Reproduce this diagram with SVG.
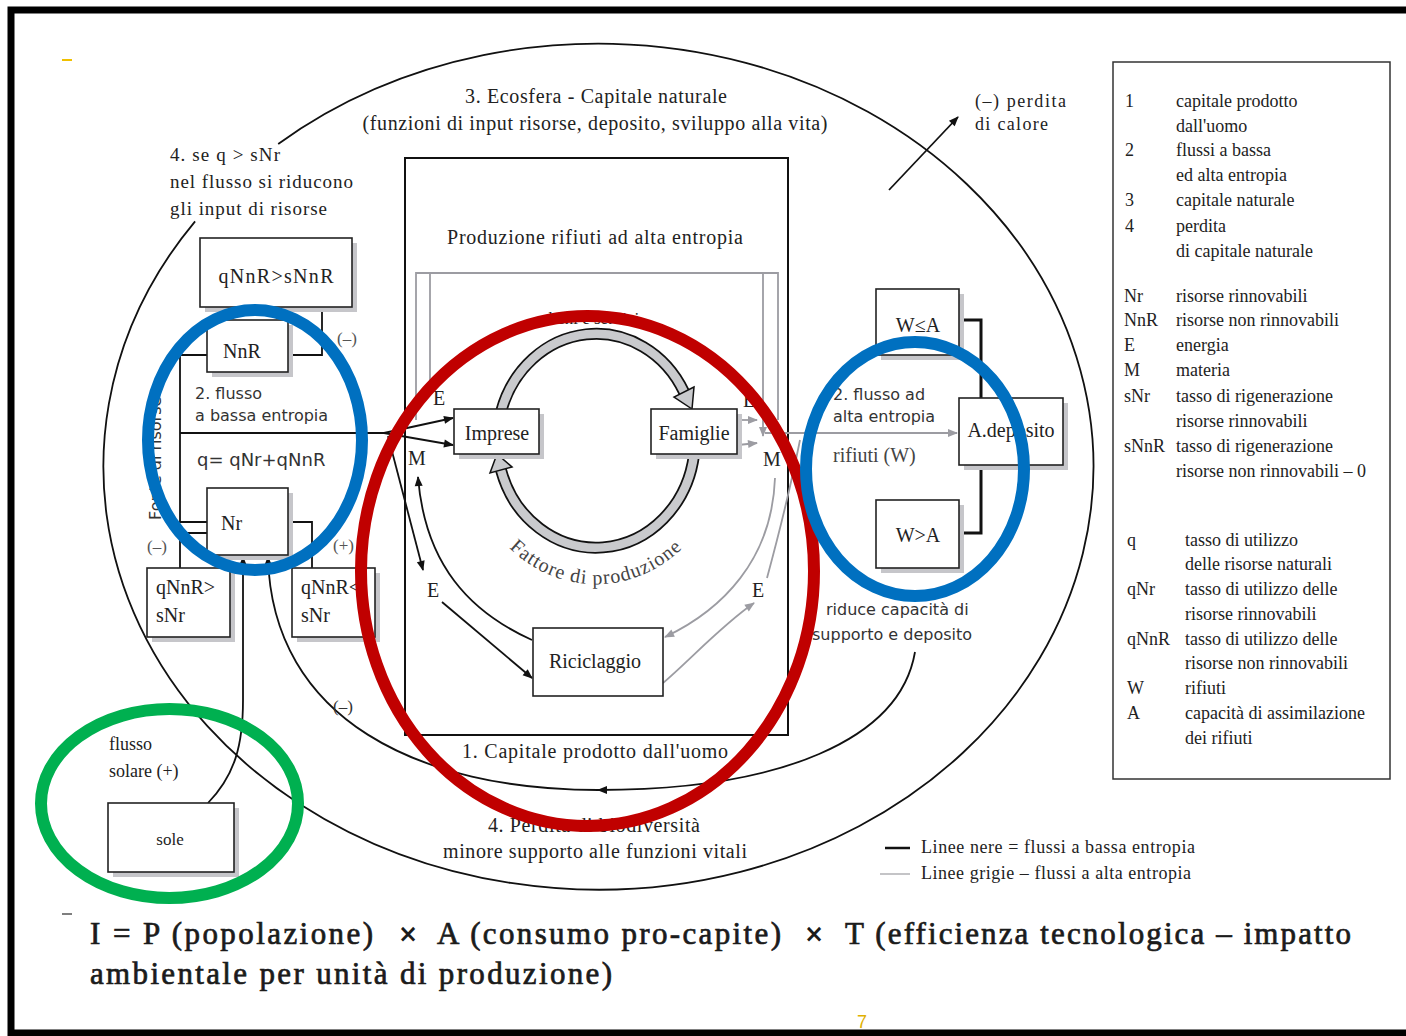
<svg xmlns="http://www.w3.org/2000/svg" width="1406" height="1036" viewBox="0 0 1406 1036">
<style>
.t{font-family:"Liberation Serif",serif;font-size:20px;fill:#222}
.s{font-family:"DejaVu Sans",sans-serif;font-size:16px;fill:#333}
.lg{font-family:"Liberation Serif",serif;font-size:18px;fill:#222}
.box{fill:#fff;stroke:#222;stroke-width:1.6}
.sh{fill:#c6c6ca}
.ln{fill:none;stroke:#111;stroke-width:1.8}
.gl{fill:none;stroke:#9c9ca2;stroke-width:1.8}
.f{font-family:"Liberation Serif",serif;font-size:31px;fill:#1b1b1b;stroke:#1b1b1b;stroke-width:0.7}
.x{font-family:"DejaVu Sans",sans-serif;font-size:24px;font-weight:bold;fill:#1b1b1b}
</style>
<defs>
<marker id="ab" viewBox="0 0 10 10" refX="9" refY="5" markerWidth="11" markerHeight="10" markerUnits="userSpaceOnUse" orient="auto"><path d="M0,1 L10,5 L0,9 z" fill="#111"/></marker>
<marker id="ag" viewBox="0 0 10 10" refX="9" refY="5" markerWidth="11" markerHeight="10" markerUnits="userSpaceOnUse" orient="auto"><path d="M0,1 L10,5 L0,9 z" fill="#9c9ca2"/></marker>
</defs>
<rect width="1406" height="1036" fill="#fff"/>
<text x="857" y="1028" style="font-family:'Liberation Sans',sans-serif;font-size:18px;fill:#e0b000">7</text>
<rect x="11" y="10" width="1420" height="1023" fill="none" stroke="#000" stroke-width="7"/>
<line x1="62" y1="60" x2="72" y2="60" stroke="#f0c000" stroke-width="2"/>
<line x1="62" y1="914" x2="72" y2="914" stroke="#555" stroke-width="1.5"/>

<g id="ecosfera">
<path d="M 278.2,144 A 495 423 0 1 1 195.1,221.3" fill="none" stroke="#111" stroke-width="1.8"/>
<text class="t" x="596" y="103" text-anchor="middle" textLength="262">3. Ecosfera - Capitale naturale</text>
<text class="t" x="595" y="130" text-anchor="middle" textLength="465">(funzioni di input risorse, deposito, sviluppo alla vita)</text>
<text class="t" x="170" y="161" style="font-size:19px" textLength="110">4. se q &gt; sNr</text>
<text class="t" x="170" y="188" style="font-size:19px" textLength="183">nel flusso si riducono</text>
<text class="t" x="170" y="215" style="font-size:19px" textLength="157">gli input di risorse</text>
<text class="t" x="975" y="107" style="font-size:18px" textLength="91">(–) perdita</text>
<text class="t" x="975" y="130" style="font-size:18px" textLength="73">di calore</text>
</g>

<g id="capitale-prodotto">
<rect x="405" y="158" width="383" height="577" fill="none" stroke="#111" stroke-width="2"/>
<text class="t" x="595" y="244" text-anchor="middle" textLength="296">Produzione rifiuti ad alta entropia</text>
<text class="t" x="595" y="758" text-anchor="middle" textLength="266">1. Capitale prodotto dall'uomo</text>
</g>

<g id="connectors">
<path class="gl" d="M416,420 V273 H778 V420"/>
<path class="gl" d="M430,392 V273"/>
<path class="gl" d="M763,273 V436" marker-end="url(#ag)"/>
<path class="gl" d="M738,420 L757,420" marker-end="url(#ag)"/>
<path class="gl" d="M738,445 L757,443" marker-end="url(#ag)"/>
<path class="gl" d="M765,433 L957,433" marker-end="url(#ag)"/>
<path class="gl" d="M775,478 C772,560 722,610 665,637" marker-end="url(#ag)"/>
<path class="gl" d="M663,683 C690,660 722,625 754,603" marker-end="url(#ag)"/>
<path class="gl" d="M767,578 C780,530 792,480 800,440"/>
<path class="ln" d="M322,307 V355 H288"/>
<path class="ln" d="M207,355 H180 V522 H207"/>
<path class="ln" d="M180,568 V533 H207"/>
<path class="ln" d="M312,568 V522 H288"/>
<path class="ln" d="M180,433 H384"/>
<path class="ln" d="M384,433 L453,418" marker-end="url(#ab)"/>
<path class="ln" d="M384,433 L453,445" marker-end="url(#ab)"/>
<path class="ln" d="M388,436 L423,570" marker-end="url(#ab)"/>
<path class="ln" d="M442,602 L532,678" marker-end="url(#ab)"/>
<path class="ln" d="M532,640 C470,612 425,565 418,477" marker-end="url(#ab)"/>
<path class="ln" d="M208,803 C235,775 243,745 243,700 L243,557" marker-end="url(#ab)"/>
<path class="ln" d="M915,652 C900,740 780,790 598,790 C420,790 272,720 268,557" marker-mid="url(#ab)" marker-end="url(#ab)"/>
<path class="ln" d="M889,190 L958,117" marker-end="url(#ab)"/>
<path d="M959,320 H981 V398 M981,465 V533 H959" fill="none" stroke="#111" stroke-width="3"/>
<path d="M501,412 A 99 108 0 0 1 684,392" fill="none" stroke="#111" stroke-width="12"/>
<path d="M501,412 A 99 108 0 0 1 684,392" fill="none" stroke="#c9cacd" stroke-width="8.5"/>
<polygon points="694,387 674,397 692,409" fill="#c9cacd" stroke="#111" stroke-width="1.5"/>
<path d="M694,455 A 99 108 0 0 1 501,470" fill="none" stroke="#111" stroke-width="12"/>
<path d="M694,455 A 99 108 0 0 1 501,470" fill="none" stroke="#c9cacd" stroke-width="8.5"/>
<polygon points="512,467 490,473 497,454" fill="#c9cacd" stroke="#111" stroke-width="1.5"/>
<path id="fp" d="M 483,512 A 130 143 0 0 0 709,512" fill="none"/>
<text class="t" style="font-size:20px;fill:#444" letter-spacing="1"><textPath href="#fp" startOffset="50%" text-anchor="middle">Fattore di produzione</textPath></text>
<text class="t" x="594" y="324" text-anchor="middle" style="font-size:17px">beni e servizi</text>
<text class="t" x="433" y="405">E</text>
<text class="t" x="408" y="465">M</text>
<text class="t" x="427" y="597">E</text>
<text class="t" x="743" y="407">E</text>
<text class="t" x="763" y="466">M</text>
<text class="t" x="752" y="597">E</text>
<text class="t" x="337" y="344" style="font-size:17px;fill:#555">(–)</text>
<text class="t" x="147" y="552" style="font-size:17px;fill:#555">(–)</text>
<text class="t" x="333" y="551" style="font-size:17px;fill:#555">(+)</text>
<text class="t" x="333" y="712" style="font-size:17px;fill:#333">(–)</text>
</g>

<g id="left-resources">
<text class="s" transform="translate(161,520) rotate(-90)">Fonte di risorse</text>
<text class="s" x="195" y="399">2. flusso</text>
<text class="s" x="195" y="421">a bassa entropia</text>
<text class="s" x="197" y="466" style="font-size:18px">q= qNr+qNnR</text>
</g>
<g id="qNnR-sNnR"><rect class="sh" x="205" y="243" width="152" height="69"/><rect class="box" x="200" y="238" width="152" height="69"/><text class="t" x="276" y="283" text-anchor="middle" textLength="115">qNnR&gt;sNnR</text></g>
<g id="NnR"><rect class="sh" x="212" y="325" width="81" height="52"/><rect class="box" x="207" y="320" width="81" height="52"/><text class="t" x="242" y="358" text-anchor="middle">NnR</text></g>
<g id="Nr"><rect class="sh" x="212" y="493" width="81" height="67"/><rect class="box" x="207" y="488" width="81" height="67"/><text class="t" x="221" y="530">Nr</text></g>
<g id="qNnR-gt-sNr"><rect class="sh" x="152" y="573" width="83" height="69"/><rect class="box" x="147" y="568" width="83" height="69"/><text class="t" x="156" y="594">qNnR&gt;</text><text class="t" x="156" y="622">sNr</text></g>
<g id="qNnR-lt-sNr"><rect class="sh" x="297" y="573" width="83" height="69"/><rect class="box" x="292" y="568" width="83" height="69"/><text class="t" x="301" y="594">qNnR&lt;</text><text class="t" x="301" y="622">sNr</text></g>

<g id="imprese"><rect class="sh" x="459" y="414" width="85" height="45"/><rect class="box" x="454" y="409" width="85" height="45"/><text class="t" x="497" y="440" text-anchor="middle">Imprese</text></g>
<g id="famiglie"><rect class="sh" x="656" y="414" width="86" height="45"/><rect class="box" x="651" y="409" width="86" height="45"/><text class="t" x="694" y="440" text-anchor="middle">Famiglie</text></g>
<g id="riciclaggio"><rect class="box" x="533" y="628" width="130" height="68"/><text class="t" x="595" y="668" text-anchor="middle">Riciclaggio</text></g>

<g id="right-deposit">
<text class="s" x="833" y="400">2. flusso ad</text>
<text class="s" x="833" y="422">alta entropia</text>
<text class="t" x="833" y="462" style="fill:#444">rifiuti (W)</text>
<text class="s" x="826" y="615">riduce capacità di</text>
<text class="s" x="812" y="640">supporto e deposito</text>
</g>
<g id="W-le-A"><rect class="sh" x="881" y="294" width="83" height="66"/><rect class="box" x="876" y="289" width="83" height="66"/><text class="t" x="918" y="332" text-anchor="middle">W≤A</text></g>
<g id="A-deposito"><rect class="sh" x="964" y="403" width="104" height="67"/><rect class="box" x="959" y="398" width="104" height="67"/><text class="t" x="1011" y="437" text-anchor="middle">A.deposito</text></g>
<g id="W-gt-A"><rect class="sh" x="881" y="505" width="83" height="68"/><rect class="box" x="876" y="500" width="83" height="68"/><text class="t" x="918" y="542" text-anchor="middle">W&gt;A</text></g>

<g id="sole"><rect class="sh" x="113" y="808" width="126" height="69"/><rect class="box" x="108" y="803" width="126" height="69"/><text class="t" x="170" y="845" text-anchor="middle" style="font-size:17px">sole</text>
<text class="t" x="109" y="750" style="font-size:18px">flusso</text><text class="t" x="109" y="777" style="font-size:18px">solare (+)</text></g>

<g id="biodiversita">
<text class="t" x="594" y="832" text-anchor="middle" textLength="212">4. Perdita di biodiversità</text>
<text class="t" x="595" y="858" text-anchor="middle" textLength="304">minore supporto alle funzioni vitali</text>
</g>

<g id="line-legend">
<line x1="885" y1="848" x2="910" y2="848" stroke="#111" stroke-width="2.5"/>
<text class="lg" x="921" y="853" textLength="274">Linee nere = flussi a bassa entropia</text>
<line x1="880" y1="874" x2="910" y2="874" stroke="#9c9ca2" stroke-width="1.2"/>
<text class="lg" x="921" y="879" textLength="270">Linee grigie – flussi a alta entropia</text>
</g>

<g id="legend">
<rect x="1113" y="62" width="277" height="717" fill="none" stroke="#333" stroke-width="1.5"/>
<g class="lg">
<text x="1125" y="107">1</text><text x="1176" y="107">capitale prodotto</text>
<text x="1176" y="132">dall'uomo</text>
<text x="1125" y="156">2</text><text x="1176" y="156">flussi a bassa</text>
<text x="1176" y="181">ed alta entropia</text>
<text x="1125" y="206">3</text><text x="1176" y="206">capitale naturale</text>
<text x="1125" y="232">4</text><text x="1176" y="232">perdita</text>
<text x="1176" y="257">di capitale naturale</text>
<text x="1124" y="302">Nr</text><text x="1176" y="302">risorse rinnovabili</text>
<text x="1124" y="326">NnR</text><text x="1176" y="326">risorse non rinnovabili</text>
<text x="1124" y="351">E</text><text x="1176" y="351">energia</text>
<text x="1124" y="376">M</text><text x="1176" y="376">materia</text>
<text x="1124" y="402">sNr</text><text x="1176" y="402">tasso di rigenerazione</text>
<text x="1176" y="427">risorse rinnovabili</text>
<text x="1124" y="452">sNnR</text><text x="1176" y="452">tasso di rigenerazione</text>
<text x="1176" y="477">risorse non rinnovabili – 0</text>
<text x="1127" y="546">q</text><text x="1185" y="546">tasso di utilizzo</text>
<text x="1185" y="570">delle risorse naturali</text>
<text x="1127" y="595">qNr</text><text x="1185" y="595">tasso di utilizzo delle</text>
<text x="1185" y="620">risorse rinnovabili</text>
<text x="1127" y="645">qNnR</text><text x="1185" y="645">tasso di utilizzo delle</text>
<text x="1185" y="669">risorse non rinnovabili</text>
<text x="1127" y="694">W</text><text x="1185" y="694">rifiuti</text>
<text x="1127" y="719">A</text><text x="1185" y="719">capacità di assimilazione</text>
<text x="1185" y="744">dei rifiuti</text>
</g>
</g>

<g id="formula">
<text class="f" x="90" y="944" textLength="283">I = P (popolazione)</text>
<text class="x" x="398" y="942">×</text>
<text class="f" x="437" y="944" textLength="344">A (consumo pro-capite)</text>
<text class="x" x="804" y="942">×</text>
<text class="f" x="845" y="944" textLength="506">T (efficienza tecnologica – impatto</text>
<text class="f" x="90" y="984" textLength="522">ambientale per unità di produzione)</text>
</g>

<g id="highlights" fill="none" stroke-width="12">
<ellipse cx="587.5" cy="571" rx="226.5" ry="255" stroke="#c00000"/>
<ellipse cx="255" cy="440" rx="107" ry="130" stroke="#0070c0"/>
<ellipse cx="915" cy="469" rx="109" ry="127" stroke="#0070c0"/>
<ellipse cx="169.5" cy="803.5" rx="128.5" ry="94.5" stroke="#00b050"/>
</g>
</svg>
